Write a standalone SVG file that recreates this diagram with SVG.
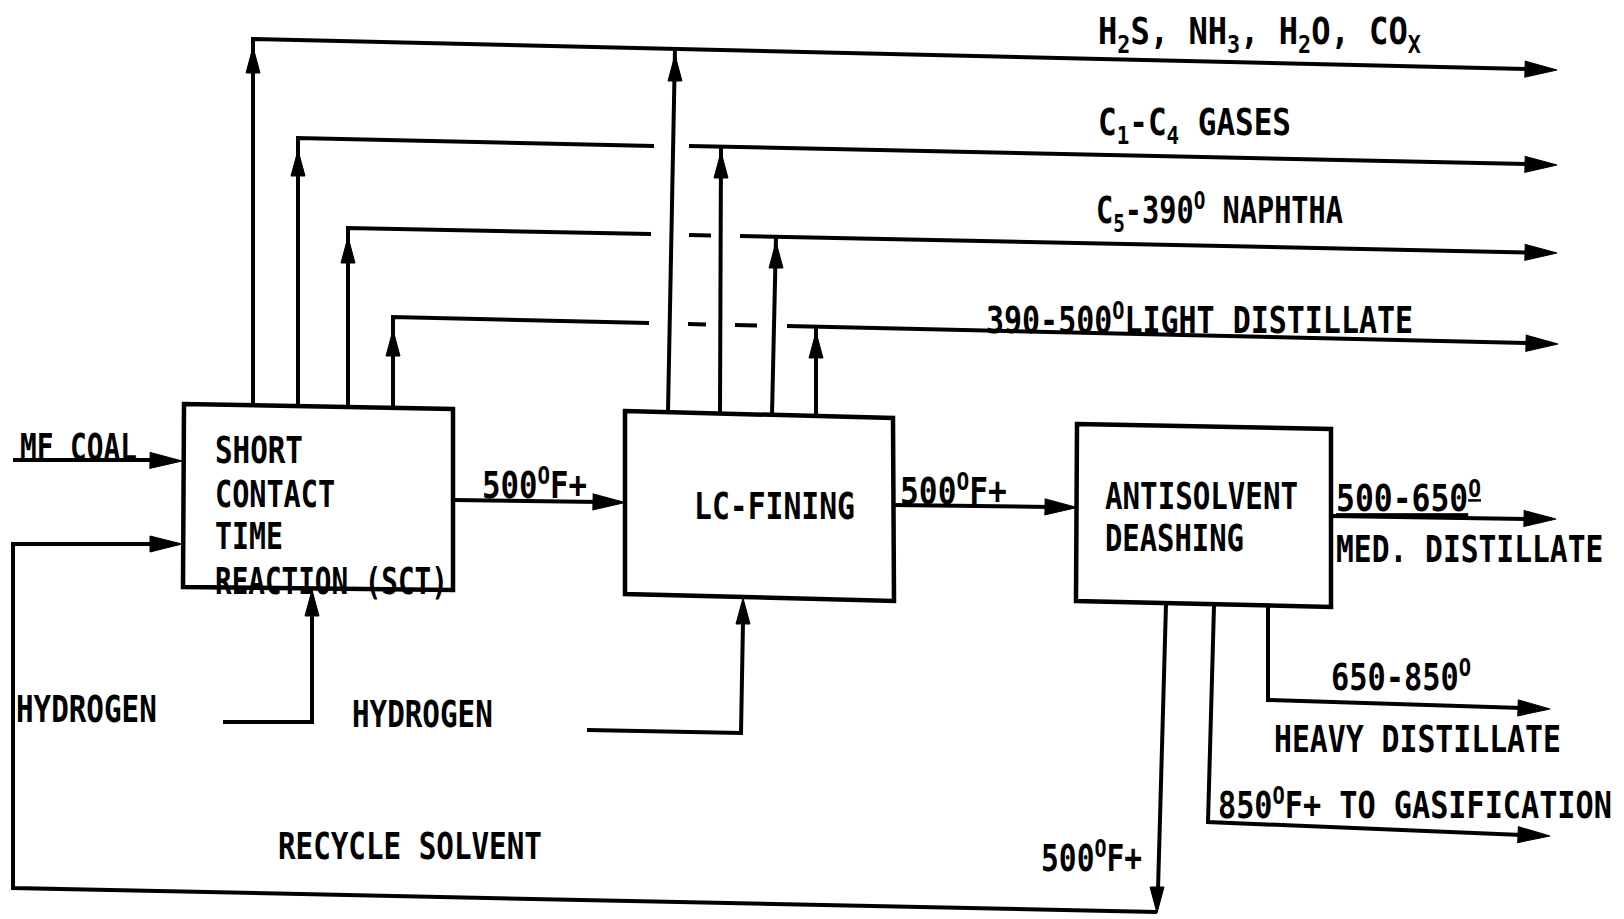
<svg xmlns="http://www.w3.org/2000/svg" xmlns:xlink="http://www.w3.org/1999/xlink" width="1624" height="919" viewBox="0 0 1624 919">
<style>
.ln{fill:none;stroke:#000;stroke-width:4;stroke-linejoin:miter;stroke-linecap:butt}
.bx{fill:#fff;stroke:#000;stroke-width:4.5;stroke-linejoin:miter}
.ah{fill:#000;stroke:#000;stroke-width:1}
.t{font-family:"DejaVu Sans Mono","Liberation Mono",monospace;font-weight:bold;font-size:37px;fill:#000}
.s{font-size:25px}
</style>
<defs>
<path id="ah" d="M0,0 L7,26 L-7,26 Z"/>
<path id="ahL" d="M0,0 L8,32 L-8,32 Z"/>
</defs>
<rect width="1624" height="919" fill="#fff"/>
<g id="connectors">
  <path class="ln" d="M253,404 L253,39 L1530,69"/>
  <path class="ln" d="M668,412 L675,49"/>
  <path class="ln" d="M298,405 L298,138 L654,146"/>
  <path class="ln" d="M689,146 L1530,164"/>
  <path class="ln" d="M720,414 L721,147"/>
  <path class="ln" d="M348,406 L348,228 L651,234"/>
  <path class="ln" d="M689,235 L711,235.5"/>
  <path class="ln" d="M740,236 L1530,252.5"/>
  <path class="ln" d="M772,415 L776,237"/>
  <path class="ln" d="M393,407 L393,317 L649,323"/>
  <path class="ln" d="M688,324 L706,324.4"/>
  <path class="ln" d="M735,325 L757,325.5"/>
  <path class="ln" d="M787,326 L1530,343"/>
  <path class="ln" d="M816,417 L816,327"/>
  <path class="ln" d="M453,500 L600,502"/>
  <path class="ln" d="M893,505 L1050,507"/>
  <path class="ln" d="M1331,516 L1528,519"/>
  <path class="ln" d="M1268,606 L1268,700 L1522,708"/>
  <path class="ln" d="M1214,606 L1208,822 L1522,835"/>
  <path class="ln" d="M1166,604 L1158,890"/>
  <path class="ln" d="M1157,912 L13,888 L13,544 L155,544"/>
  <path class="ln" d="M13,460 L155,460"/>
  <path class="ln" d="M223,722 L312,722 L312,615"/>
  <path class="ln" d="M587,730 L741,733 L743,622"/>
  <use xlink:href="#ah" class="ah" transform="translate(253,47)"/>
  <use xlink:href="#ah" class="ah" transform="translate(298,150)"/>
  <use xlink:href="#ah" class="ah" transform="translate(348,237)"/>
  <use xlink:href="#ah" class="ah" transform="translate(393,330)"/>
  <use xlink:href="#ah" class="ah" transform="translate(675,55)"/>
  <use xlink:href="#ah" class="ah" transform="translate(721,152)"/>
  <use xlink:href="#ah" class="ah" transform="translate(776,242)"/>
  <use xlink:href="#ah" class="ah" transform="translate(816,332)"/>
  <use xlink:href="#ahL" class="ah" transform="translate(1557,70) rotate(91.4)"/>
  <use xlink:href="#ahL" class="ah" transform="translate(1557,165) rotate(91.2)"/>
  <use xlink:href="#ahL" class="ah" transform="translate(1557,253) rotate(91.2)"/>
  <use xlink:href="#ahL" class="ah" transform="translate(1558,344) rotate(91.3)"/>
  <use xlink:href="#ahL" class="ah" transform="translate(182,461) rotate(91)"/>
  <use xlink:href="#ahL" class="ah" transform="translate(182,544) rotate(90)"/>
  <use xlink:href="#ahL" class="ah" transform="translate(625,502.5) rotate(91)"/>
  <use xlink:href="#ahL" class="ah" transform="translate(1077,507.5) rotate(91)"/>
  <use xlink:href="#ahL" class="ah" transform="translate(1556,519) rotate(91)"/>
  <use xlink:href="#ahL" class="ah" transform="translate(1550,709) rotate(92)"/>
  <use xlink:href="#ahL" class="ah" transform="translate(1550,836) rotate(92.4)"/>
  <use xlink:href="#ah" class="ah" transform="translate(1157,913) rotate(180)"/>
  <use xlink:href="#ah" class="ah" transform="translate(312,590)"/>
  <use xlink:href="#ah" class="ah" transform="translate(743,598)"/>
</g>
<g id="node-sct">
  <polygon class="bx" points="184,404 453,409 453,590 183,587"/>
  <text class="t" transform="translate(215,463) scale(0.79,1)">SHORT</text>
  <text class="t" transform="translate(215,507) scale(0.77,1)">CONTACT</text>
  <text class="t" transform="translate(215,549) scale(0.763,1)">TIME</text>
  <text class="t" transform="translate(215,594) scale(0.747,1)">REACTION (SCT)</text>
</g>
<g id="node-lcfining">
  <polygon class="bx" points="625,411 893,418 894,601 625,594"/>
  <text class="t" transform="translate(694,519) scale(0.803,1)">LC-FINING</text>
</g>
<g id="node-antisolvent">
  <polygon class="bx" points="1077,424 1331,429 1331,607 1076,601"/>
  <text class="t" transform="translate(1105,509) scale(0.788,1)">ANTISOLVENT</text>
  <text class="t" transform="translate(1105,551) scale(0.78,1)">DEASHING</text>
</g>
<g id="labels">
  <text class="t" transform="translate(1098,44) scale(0.868,1)">H<tspan class="s" dy="9">2</tspan><tspan dy="-9">S, NH</tspan><tspan class="s" dy="9">3</tspan><tspan dy="-9">, H</tspan><tspan class="s" dy="9">2</tspan><tspan dy="-9">O, CO</tspan><tspan class="s" dy="9">X</tspan></text>
  <text class="t" transform="translate(1098,135) scale(0.837,1)">C<tspan class="s" dy="9">1</tspan><tspan dy="-9">-C</tspan><tspan class="s" dy="9">4</tspan><tspan dy="-9"> GASES</tspan></text>
  <text class="t" transform="translate(1096,223) scale(0.773,1)">C<tspan class="s" dy="9">5</tspan><tspan dy="-9">-390</tspan><tspan class="s" dy="-14">O</tspan><tspan dy="14"> NAPHTHA</tspan></text>
  <text class="t" transform="translate(986,333) scale(0.81,1)">390-500<tspan class="s" dy="-14">O</tspan><tspan dy="14">LIGHT DISTILLATE</tspan></text>
  <text class="t" transform="translate(20,460) scale(0.75,1)">MF COAL</text>
  <text class="t" transform="translate(482,498) scale(0.83,1)">500<tspan class="s" dy="-14">O</tspan><tspan dy="14">F+</tspan></text>
  <text class="t" transform="translate(900,504) scale(0.846,1)">500<tspan class="s" dy="-14">O</tspan><tspan dy="14">F+</tspan></text>
  <text class="t" transform="translate(1336,511) scale(0.848,1)" text-decoration="underline">500-650<tspan class="s" dy="-14">O</tspan></text>
  <text class="t" transform="translate(1336,562) scale(0.8,1)">MED. DISTILLATE</text>
  <text class="t" transform="translate(1331,690) scale(0.82,1)">650-850<tspan class="s" dy="-14">O</tspan></text>
  <text class="t" transform="translate(1274,752) scale(0.805,1)">HEAVY DISTILLATE</text>
  <text class="t" transform="translate(1218,818) scale(0.816,1)">850<tspan class="s" dy="-14">O</tspan><tspan dy="14">F+ TO GASIFICATION</tspan></text>
  <text class="t" transform="translate(1041,871) scale(0.8,1)">500<tspan class="s" dy="-14">O</tspan><tspan dy="14">F+</tspan></text>
  <text class="t" transform="translate(16,722) scale(0.79,1)">HYDROGEN</text>
  <text class="t" transform="translate(352,727) scale(0.79,1)">HYDROGEN</text>
  <text class="t" transform="translate(278,859) scale(0.79,1)">RECYCLE SOLVENT</text>
</g>
</svg>
